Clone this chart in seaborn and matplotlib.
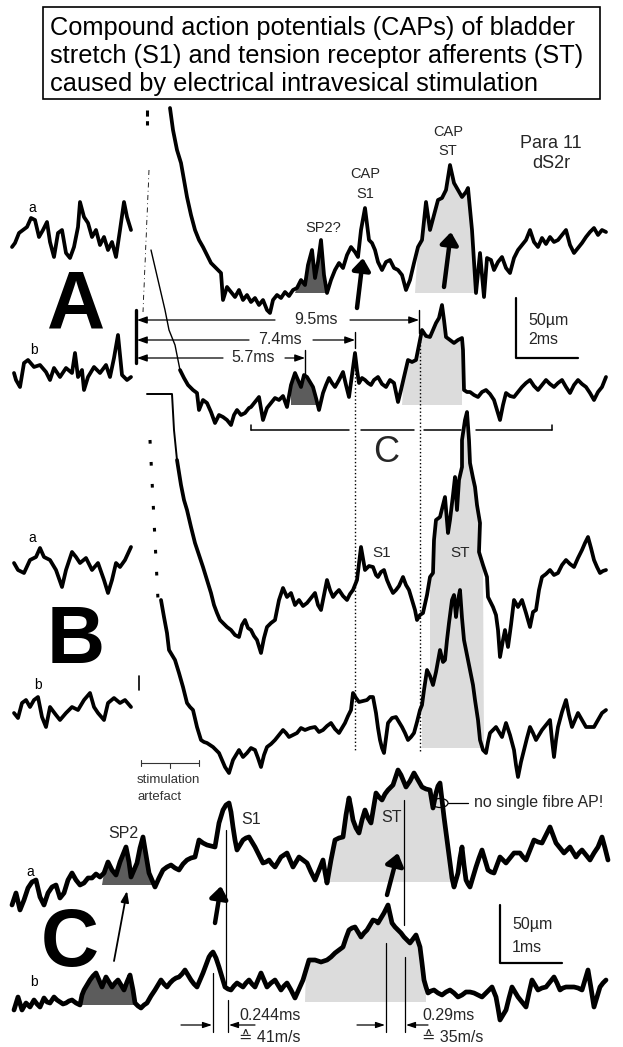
import numpy as np
import matplotlib
matplotlib.use("Agg")
import matplotlib.pyplot as plt
import seaborn as sns
from matplotlib.patches import Rectangle, Ellipse

sns.set_theme(style="white")
plt.rcParams["font.family"] = ["Liberation Sans", "DejaVu Sans"]

# ---------------- data: recorded traces (x in px-time, y in px-amplitude) ----------------
Aa_pre = [(12,247),(15,243),(19,233),(23,230),(27,227),(31,218),(35,220),(39,237),(43,230),(47,222),
          (50,242),(54,257),(58,233),(62,230),(66,253),(70,258),(74,247),(78,227),(80,202),(84,217),
          (88,223),(92,237),(96,230),(100,245),(104,237),(108,250),(112,242),(116,257),(120,230),(124,202),
          (127,217),(131,230)]
Aa = [(170,108),(173,130),(177,150),(181,163),(184,180),(187,197),(191,215),(195,230),(199,240),(203,247),
      (207,255),(211,263),(216,268),(221,273),(223,300),(227,287),(231,292),(235,297),(239,290),(243,300),
      (247,295),(251,302),(255,298),(259,305),(263,300),(267,310),(270,313),(273,300),(277,295),(281,298),
      (285,292),(289,296),(293,290),(297,288),(301,280),(305,285),(308,265),(312,250),(315,278),(318,262),
      (321,240),(324,275),(327,293),(331,280),(335,270),(339,263),(343,268),(347,255),(351,247),(355,252),
      (358,257),(361,230),(365,208),(369,240),(372,243),(375,250),(378,262),(382,270),(386,262),(390,260),
      (394,268),(398,270),(402,275),(406,290),(410,280),(414,263),(418,247),(422,240),(426,202),(430,230),
      (434,215),(438,200),(442,198),(446,190),(450,165),(454,183),(458,190),(462,197),(466,192),(468,188),
      (472,230),(476,293),(480,253),(484,297),(487,258),(491,260),(494,270),(498,262),(502,257),(506,268),
      (510,273),(514,258),(518,250),(522,245),(526,240),(530,230),(534,242),(538,247),(542,238),(546,244),
      (550,237),(554,242),(558,240),(562,235),(566,230),(570,245),(574,253),(578,248),(582,243),(586,237),
      (590,232),(594,228),(598,235),(602,230),(606,232)]
Ab_pre = [(14,373),(16,380),(20,387),(24,363),(28,360),(34,367),(40,365),(46,372),(50,380),(54,368),
          (60,377),(66,368),(72,373),(75,353),(78,377),(82,370),(84,390),(88,377),(94,367),(100,373),
          (106,365),(110,377),(114,358),(118,335),(122,375),(127,380),(131,377)]
Ab = [(151,250),(158,280),(165,310),(169,330),(175,345),(180,370),(184,378),(188,385),(193,390),(197,393),
      (199,410),(203,400),(207,403),(211,412),(215,423),(219,415),(223,417),(227,420),(231,425),(234,415),
      (237,410),(241,415),(245,413),(249,408),(251,407),(255,402),(259,397),(263,420),(267,408),(271,403),
      (275,398),(279,400),(283,396),(287,407),(291,385),(295,373),(298,380),(301,387),(304,375),(307,377),
      (310,382),(313,387),(316,398),(319,410),(323,393),(326,385),(329,378),(332,383),(335,387),(339,380),
      (343,372),(346,385),(349,397),(352,375),(355,353),(357,370),(359,383),(362,378),(365,380),(368,383),
      (371,385),(374,380),(378,377),(382,384),(386,387),(390,380),(394,383),(398,402),(401,390),(404,377),
      (408,360),(412,362),(416,360),(419,345),(422,330),(426,336),(430,337),(433,330),(436,323),(439,318),
      (442,305),(444,320),(446,337),(450,340),(454,343),(458,340),(462,338),(463,350),(464,390),(467,392),
      (470,392),(474,395),(478,397),(482,392),(486,390),(490,394),(494,400),(497,410),(500,420),(503,405),
      (506,393),(510,396),(514,397),(518,392),(522,387),(526,383),(530,380),(534,386),(538,390),(542,385),
      (546,380),(550,384),(554,387),(558,383),(562,380),(566,387),(570,393),(574,385),(578,380),(582,384),
      (586,387),(590,393),(594,400),(598,392),(602,387),(606,377)]
Ba_pre = [(14,563),(18,570),(24,573),(30,560),(36,557),(40,548),(44,557),(50,560),(56,570),(62,587),
          (66,570),(72,552),(76,557),(80,563),(86,558),(92,570),(98,563),(104,580),(108,593),(112,580),
          (116,563),(120,567),(125,560),(131,547)]
Ba = [(147,394),(172,394),(174,430),(177,460),(181,485),(184,500),(187,510),(191,527),(195,543),(199,555),
      (203,567),(207,580),(211,593),(214,605),(217,613),(220,620),(223,623),(227,627),(231,630),(235,635),
      (239,637),(242,625),(245,620),(248,628),(251,630),(254,636),(257,640),(261,653),(264,638),(267,627),
      (271,623),(275,620),(279,600),(283,588),(287,597),(291,593),(295,605),(299,600),(303,606),(307,603),
      (311,598),(315,593),(318,605),(321,610),(324,595),(327,580),(330,590),(333,597),(336,593),(339,590),
      (343,596),(347,600),(350,594),(353,590),(357,580),(361,547),(365,570),(369,566),(373,567),(376,575),
      (378,577),(381,572),(384,570),(387,580),(390,587),(393,593),(396,590),(399,586),(403,577),(406,585),
      (409,590),(412,600),(415,610),(417,620),(420,615),(423,613),(427,595),(430,577),(433,573),(434,540),
      (436,520),(440,517),(443,505),(445,497),(448,533),(450,520),(453,495),(455,477),(457,510),(459,480),
      (462,467),(462,440),(465,420),(467,412),(469,440),(470,463),(473,478),(475,487),(477,505),(480,523),
      (479,552),(483,565),(487,577),(488,597),(491,603),(493,607),(496,615),(498,630),(500,657),(503,640),
      (505,630),(508,647),(511,625),(514,600),(518,607),(522,600),(526,613),(530,627),(533,612),(536,610),
      (539,590),(542,577),(546,574),(550,570),(554,575),(558,573),(562,565),(566,560),(570,564),(574,567),
      (578,558),(582,550),(585,543),(588,537),(591,548),(594,560),(597,567),(600,573),(603,571),(606,570)]
Bb_pre = [(14,713),(18,718),(22,703),(26,700),(30,707),(34,700),(38,697),(42,717),(46,727),(50,707),
          (56,715),(60,720),(66,713),(72,707),(78,710),(84,700),(90,693),(94,707),(98,713),(104,720),
          (108,703),(114,698),(120,703),(125,700),(131,707)]
Bb = [(161,600),(164,617),(167,633),(169,650),(172,655),(175,660),(179,673),(183,687),(187,703),(190,707),
      (193,710),(197,727),(201,740),(204,742),(207,743),(210,745),(213,747),(216,750),(219,753),(222,760),
      (225,767),(229,773),(233,760),(236,755),(239,750),(243,757),(247,753),(251,748),(255,750),(258,758),
      (261,767),(264,755),(267,747),(271,744),(275,740),(279,735),(283,730),(286,733),(289,737),(293,735),
      (297,733),(301,728),(305,730),(310,728),(315,727),(319,732),(323,730),(327,726),(331,723),(335,729),
      (339,733),(342,728),(345,723),(348,716),(351,710),(353,693),(356,698),(359,702),(363,701),(367,700),
      (370,697),(373,697),(376,713),(378,728),(380,740),(382,748),(384,753),(386,738),(388,723),(392,718),
      (396,717),(399,722),(402,727),(405,733),(408,740),(411,737),(414,733),(417,722),(420,710),(422,705),
      (424,690),(427,670),(430,676),(433,685),(436,672),(440,650),(443,662),(445,660),(447,640),(449,623),
      (452,600),(454,595),(456,617),(458,600),(460,590),(462,618),(464,640),(466,650),(468,660),(470,670),
      (473,685),(475,700),(478,720),(480,740),(483,750),(486,753),(488,742),(490,733),(493,730),(496,727),
      (499,732),(502,737),(504,730),(506,723),(510,735),(514,750),(516,765),(518,777),(521,762),(524,750),
      (527,738),(530,727),(533,733),(536,740),(539,735),(542,730),(546,725),(550,720),(552,740),(554,757),
      (556,740),(558,727),(562,712),(566,700),(569,715),(572,727),(575,720),(578,713),(582,720),(586,727),
      (590,727),(594,727),(598,720),(602,713),(606,710)]
Ca = [(12,905),(16,893),(20,910),(24,900),(28,888),(32,882),(36,880),(40,897),(44,905),(48,893),
      (52,887),(56,885),(60,898),(64,893),(68,880),(72,873),(76,880),(80,885),(84,883),(88,878),
      (92,878),(96,874),(100,877),(104,873),(108,862),(112,870),(116,875),(120,862),(124,852),(126,847),
      (129,862),(131,877),(134,870),(137,863),(140,848),(143,837),(146,855),(149,873),(152,880),(155,887),
      (159,878),(163,870),(167,867),(171,865),(175,868),(179,870),(183,864),(187,860),(191,858),(195,857),
      (199,840),(203,843),(207,845),(211,846),(215,847),(219,823),(223,810),(226,805),(229,803),(231,812),
      (233,827),(235,840),(237,850),(240,845),(243,840),(246,838),(249,837),(252,842),(255,847),(259,855),
      (263,863),(266,862),(269,860),(272,864),(275,867),(278,862),(281,857),(284,855),(287,853),(290,860),
      (293,867),(296,862),(299,857),(303,860),(307,863),(311,872),(315,880),(319,870),(323,860),(325,872),
      (327,883),(331,860),(335,840),(339,838),(343,837),(346,815),(349,798),(351,808),(353,820),(356,828),
      (359,833),(362,820),(365,810),(368,818),(371,823),(374,805),(376,793),(379,797),(382,800),(385,794),
      (388,790),(393,785),(398,770),(401,775),(406,787),(410,781),(414,773),(418,780),(422,787),(426,789),
      (430,790),(433,808),(436,793),(438,786),(440,783),(442,800),(444,817),(447,840),(450,863),(452,878),
      (454,887),(456,880),(458,873),(460,858),(462,847),(464,865),(466,880),(468,884),(470,887),(473,877),
      (476,867),(479,858),(482,850),(485,860),(488,870),(491,872),(494,873),(497,865),(500,857),(503,860),
      (506,863),(510,858),(514,853),(517,853),(520,853),(523,857),(526,860),(530,850),(534,840),(538,842),
      (542,843),(546,835),(550,827),(553,835),(556,843),(560,848),(564,853),(567,850),(570,847),(573,852),
      (576,857),(579,853),(582,850),(586,855),(590,860),(594,853),(598,847),(602,837),(605,848),(608,860)]
Cb = [(14,1010),(18,997),(22,1010),(26,1003),(30,1007),(34,1000),(37,1004),(40,1007),(44,998),(47,1002),
      (50,1003),(54,997),(57,1000),(60,1002),(63,1004),(66,1003),(69,1001),(72,1000),(76,1003),(80,1005),
      (82,995),(84,990),(87,985),(90,980),(93,976),(96,973),(99,980),(102,987),(104,982),(106,977),
      (109,982),(112,987),(115,983),(118,980),(121,985),(124,990),(127,982),(130,975),(133,990),(135,1003),
      (138,1006),(141,1008),(144,1005),(147,1003),(151,996),(155,990),(158,985),(161,980),(164,984),(167,987),
      (170,983),(173,980),(176,978),(179,977),(182,974),(185,970),(188,975),(191,980),(194,984),(197,987),
      (200,980),(203,973),(206,965),(209,957),(211,954),(213,952),(216,958),(219,967),(222,977),(225,987),
      (228,989),(231,990),(234,986),(237,983),(240,985),(243,987),(246,983),(249,980),(252,984),(255,987),
      (258,980),(261,973),(264,980),(267,987),(271,983),(275,980),(278,985),(281,990),(284,986),(287,983),
      (291,990),(295,998),(299,989),(303,980),(306,970),(309,960),(312,960),(315,960),(318,961),(321,962),
      (324,961),(327,960),(331,957),(335,953),(339,950),(343,947),(346,938),(349,930),(352,928),(355,927),
      (358,932),(361,937),(364,933),(367,930),(370,925),(373,920),(376,921),(378,923),(381,918),(384,913),
      (386,909),(388,905),(390,914),(392,923),(395,927),(398,930),(401,933),(404,937),(407,940),(410,943),
      (413,939),(416,935),(418,941),(420,947),(422,963),(424,980),(426,987),(428,993),(431,991),(434,990),
      (438,993),(442,995),(446,992),(450,990),(454,993),(458,997),(462,995),(466,992),(470,992),(474,993),
      (478,995),(482,997),(487,992),(492,987),(494,992),(496,997),(498,1008),(500,1020),(503,1015),(506,1010),
      (509,998),(512,987),(515,992),(518,997),(522,1002),(526,1007),(529,993),(532,980),(535,985),(538,990),
      (542,988),(546,987),(550,982),(554,977),(557,983),(560,990),(563,988),(566,987),(570,987),(574,987),
      (578,988),(582,990),(585,980),(588,970),(591,988),(594,1007),(597,997),(600,987),(603,983),(606,980)]

title_lines = ["Compound action potentials (CAPs) of bladder",
               "stretch (S1) and tension receptor afferents (ST)",
               "caused by electrical intravesical stimulation"]
latency_labels = ["9.5ms", "7.4ms", "5.7ms"]
velocity_labels = [("0.244ms", "\u2259 41m/s"), ("0.29ms", "\u2259 35m/s")]

# ---------------- figure ----------------
fig = plt.figure(figsize=(6.23, 10.47), dpi=100)
ax = fig.add_axes([0, 0, 1, 1])
ax.set_xlim(0, 623)
ax.set_ylim(1047, 0)
ax.axis("off")

LIGHT = "#dcdcdc"
DARK = "#5c5c5c"

def trace(pts, lw=2.2, z=4):
    xs, ys = zip(*pts)
    sns.lineplot(x=list(xs), y=list(ys), sort=False, estimator=None, color="black",
                 linewidth=lw, ax=ax, legend=False, zorder=z,
                 solid_joinstyle="round", solid_capstyle="round")

def shade(pts, x0, x1, base, color):
    sel = [(x, min(y, base)) for x, y in pts if x0 <= x <= x1]
    px = [x0] + [p[0] for p in sel] + [x1]
    py = [base] + [p[1] for p in sel] + [base]
    ax.fill(px, py, color=color, lw=0, zorder=1)

# shadings
shade(Aa, 295, 327, 293, DARK)
shade(Aa, 415, 476, 293, LIGHT)
shade(Ab, 291, 319, 405, DARK)
shade(Ab, 402, 462, 405, LIGHT)
shade(Ba, 430, 484, 748, LIGHT)
shade(Bb, 422, 484, 748, LIGHT)
shade(Ca, 102, 153, 885, DARK)
shade(Ca, 327, 452, 882, LIGHT)
shade(Cb, 82, 139, 1005, DARK)
shade(Cb, 305, 426, 1002, LIGHT)

# traces
for p in (Aa_pre, Ab_pre, Ba_pre, Bb_pre):
    trace(p, lw=2.7)
trace(Aa, lw=2.7)
trace(Ab[:6], lw=1.0)
trace(Ab[5:], lw=2.7)
trace(Ba[:4], lw=1.4)
trace(Ba[3:], lw=2.7)
trace(Bb, lw=2.7)
trace(Ca, lw=3.4)
trace(Cb, lw=3.4)

# stimulation artefact marks
ax.plot([147, 147], [110, 125], color="black", lw=2.2, ls=(0, (2, 1.5)))
ax.plot([149, 143], [170, 312], color="black", lw=0.6, ls=(0, (6, 4, 1, 4)))
ax.plot([150, 158], [440, 600], color="black", lw=2.2, ls=(0, (1.2, 6)))
ax.plot([139, 139], [676, 690], color="black", lw=1.2)

# dotted alignment lines
ax.plot([355, 355], [362, 752], color="black", lw=1.0, ls=":")
ax.plot([420, 420], [330, 752], color="black", lw=1.0, ls=":")

# title box
ax.add_patch(Rectangle((43, 7), 557, 92, fill=False, ec="black", lw=1.2, zorder=5))
for i, t in enumerate(title_lines):
    ax.text(50, 28 + 28 * i, t, fontsize=18.3, va="center", ha="left", color="black")

# panel letters
for lab, (x, y) in zip("ABC", [(76, 328), (76, 663), (70, 966)]):
    ax.text(x, y, lab, fontsize=58, fontweight="bold", ha="center", va="baseline", color="black")

# trace labels a / b
for lab, (x, y) in zip("abababab", [(32, 208), (34, 350), (32, 538), (38, 685), (30, 872), (34, 982)]):
    ax.text(x, y, lab, fontsize=10, ha="center", va="center", color="black")

# panel A annotations
ax.text(448, 132, "CAP", fontsize=10.5, ha="center", va="center")
ax.text(448, 151, "ST", fontsize=10.5, ha="center", va="center")
ax.text(551, 143, "Para 11", fontsize=13, ha="center", va="center")
ax.text(551, 163, "dS2r", fontsize=13, ha="center", va="center")
ax.text(365, 174, "CAP", fontsize=10.5, ha="center", va="center")
ax.text(365, 194, "S1", fontsize=10.5, ha="center", va="center")
ax.text(323, 228, "SP2?", fontsize=10.5, ha="center", va="center")

def big_arrow(x0, y0, x1, y1, lw=3.2, hw=9, hl=12):
    ax.annotate("", xy=(x1, y1), xytext=(x0, y0),
                arrowprops=dict(arrowstyle=f"-|>,head_width={hw/20:.2f},head_length={hl/20:.2f}",
                                lw=lw, color="black", shrinkA=0, shrinkB=0), zorder=6)

big_arrow(357, 308, 363, 258)
big_arrow(444, 287, 451, 232)

# latency markers
ax.plot([136, 136], [310, 363], color="black", lw=2.4)
lat_y = [320, 340, 358]
lat_end = [419, 355, 305]
lat_txt = [316, 280, 253]
lat_gap = [(275, 350), (249, 313), (223, 285)]
for lab, y, xe, xt, (g0, g1) in zip(latency_labels, lat_y, lat_end, lat_txt, lat_gap):
    ax.annotate("", xy=(137, y), xytext=(g0, y),
                arrowprops=dict(arrowstyle="-|>,head_width=0.18,head_length=0.5", lw=0.9,
                                color="black", shrinkA=0, shrinkB=0))
    ax.annotate("", xy=(xe, y), xytext=(g1, y),
                arrowprops=dict(arrowstyle="-|>,head_width=0.18,head_length=0.5", lw=0.9,
                                color="black", shrinkA=0, shrinkB=0))
    ax.text(xt, y, lab, fontsize=11.5, ha="center", va="center")
ax.plot([419, 419], [310, 333], color="black", lw=1.0)
ax.plot([355, 355], [332, 348], color="black", lw=1.0)
ax.plot([305, 305], [350, 376], color="black", lw=1.0)

# scale bar A
ax.plot([516, 516, 578], [298, 358, 358], color="black", lw=1.6)
ax.text(528, 320, "50\u00b5m", fontsize=11.5, ha="left", va="center")
ax.text(528, 340, "2ms", fontsize=11.5, ha="left", va="center")

# bracket for C
for a, b in [(251, 349), (361, 414), (424, 461), (476, 552)]:
    ax.plot([a, b], [430, 430], color="black", lw=1.1)
ax.plot([251, 251], [425, 430], color="black", lw=1.1)
ax.plot([552, 552], [425, 430], color="black", lw=1.1)
ax.text(386, 453, "C", fontsize=26, ha="center", va="center")

# panel B labels
ax.text(382, 553, "S1", fontsize=11, ha="center", va="center")
ax.text(460, 553, "ST", fontsize=11, ha="center", va="center")
ax.plot([141, 199], [763, 763], color="#333333", lw=0.8)
ax.plot([141, 141], [760, 766], color="#333333", lw=0.8)
ax.plot([199, 199], [760, 766], color="#333333", lw=0.8)
ax.plot([170, 170], [763, 768], color="#333333", lw=0.8)
ax.text(137, 780, "stimulation", fontsize=9.5, ha="left", va="center", color="#333333")
ax.text(137, 797, "artefact", fontsize=9.5, ha="left", va="center", color="#333333")

# panel C annotations
ax.text(123, 833, "SP2", fontsize=11.5, ha="center", va="center")
ax.text(251, 820, "S1", fontsize=11.5, ha="center", va="center")
ax.text(392, 818, "ST", fontsize=11.5, ha="center", va="center")
ax.text(474, 803, "no single fibre AP!", fontsize=11.5, ha="left", va="center")
ax.add_patch(Ellipse((440, 803), 16, 9, fill=False, ec="black", lw=0.9, zorder=6))
ax.plot([448, 468], [803, 803], color="black", lw=0.9)

ax.annotate("", xy=(127, 891), xytext=(114, 961),
            arrowprops=dict(arrowstyle="-|>,head_width=0.2,head_length=0.55", lw=1.3,
                            color="black", shrinkA=0, shrinkB=0))
big_arrow(215, 923, 221, 886)
big_arrow(387, 895, 398, 853)

for x, y0, y1 in [(226, 830, 985), (404, 800, 925), (213, 973, 1032), (228, 1000, 1032),
                  (386, 943, 1032), (405, 957, 1032)]:
    ax.plot([x, x], [y0, y1], color="black", lw=0.9)
for xs, xe in [(181, 212), (255, 229), (357, 385), (428, 406)]:
    ax.annotate("", xy=(xe, 1025), xytext=(xs, 1025),
                arrowprops=dict(arrowstyle="-|>,head_width=0.15,head_length=0.45", lw=0.9,
                                color="black", shrinkA=0, shrinkB=0))
for (t1, t2), x in zip(velocity_labels, [239, 422]):
    ax.text(x, 1015, t1, fontsize=11.5, ha="left", va="center")
    ax.text(x, 1038, t2, fontsize=11.5, ha="left", va="center")

# scale bar C
ax.plot([500, 500, 562], [905, 963, 963], color="black", lw=1.6)
ax.text(512, 925, "50\u00b5m", fontsize=11.5, ha="left", va="center")
ax.text(512, 948, "1ms", fontsize=11.5, ha="left", va="center")

fig.savefig("out.png", dpi=100, facecolor="white")
